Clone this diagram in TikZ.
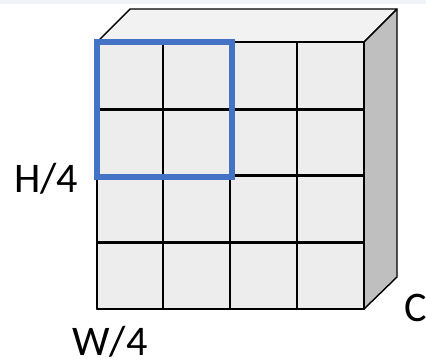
\documentclass[tikz,border=0pt]{standalone}
\usepackage{fontspec}
\setmainfont{Carlito}
\usepackage{tikz}
\definecolor{cellgray}{RGB}{237,237,237}
\definecolor{sidegray}{RGB}{191,191,191}
\definecolor{topgray}{RGB}{242,242,242}
\definecolor{selblue}{RGB}{68,114,196}
\definecolor{stripblue}{RGB}{240,243,248}

\begin{document}
\begin{tikzpicture}[x=0.02cm, y=-0.02cm, every node/.style={font=\fontsize{24}{28}\selectfont, inner sep=0pt, anchor=base west}, face/.style={draw=black, line width=0.8pt, line join=round}, gridline/.style={line width=1.7pt}]
\useasboundingbox (0,0) rectangle (426,363);
\fill[stripblue] (0,0) rectangle (426,4);
% cube faces
\filldraw[face, fill=topgray] (97,42) -- (130,9) -- (397,9) -- (364,42) -- cycle;
\filldraw[face, fill=sidegray] (364,42) -- (397,9) -- (397,277) -- (364,309) -- cycle;
\filldraw[face, fill=cellgray] (97,42) rectangle (364,309);
% grid
\foreach \x in {163,230,297} \draw[gridline] (\x,42) -- (\x,309);
\foreach \y in {109,175,242} \draw[gridline] (97,\y) -- (364,\y);
\draw[face] (97,42) rectangle (364,309);
% selected window
\draw[selblue, line width=3.8pt] (97,42) rectangle (232,177);
\node (hlabel) at (14,192) {H/4};
\node (wlabel) at (72,355) {W/4};
\node (clabel) at (404,321) {C};
\end{tikzpicture}
\end{document}
